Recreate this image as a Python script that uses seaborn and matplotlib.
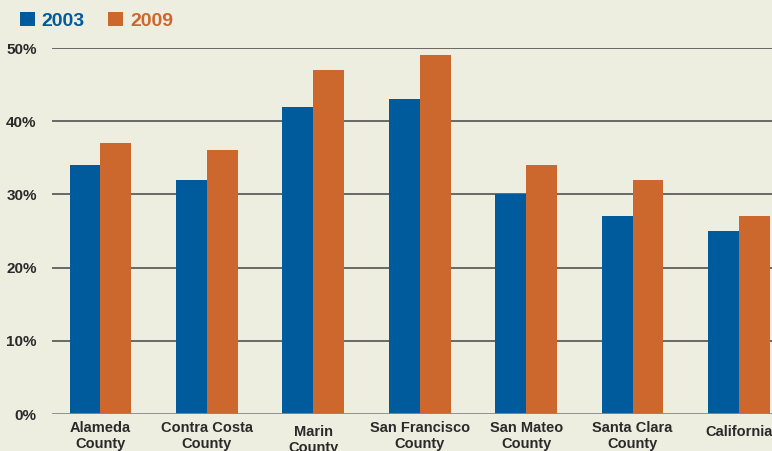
import matplotlib
matplotlib.use("Agg")
import matplotlib.pyplot as plt
import matplotlib.transforms as mtrans
from matplotlib.patches import Patch
import seaborn as sns
import pandas as pd

# Share of adults by area, 2003 vs 2009
categories = ["Alameda\nCounty", "Contra Costa\nCounty", "Marin\nCounty",
              "San Francisco\nCounty", "San Mateo\nCounty", "Santa Clara\nCounty",
              "California"]
values_2003 = [34, 32, 42, 43, 30, 27, 25]
values_2009 = [37, 36, 47, 49, 34, 32, 27]
years = ["2003", "2009"]
y_ticks = [0, 10, 20, 30, 40, 50]
y_tick_labels = ["0%", "10%", "20%", "30%", "40%", "50%"]

BG = "#EEEEE0"
BLUE = "#005B9C"
ORANGE = "#CC672E"
TEXT = "#2a2a2a"

sns.set_theme(style="white")
plt.rcParams["font.family"] = ["Liberation Sans", "DejaVu Sans"]
plt.rcParams["font.weight"] = "bold"

df = pd.DataFrame({
    "area": categories * 2,
    "year": [years[0]] * len(categories) + [years[1]] * len(categories),
    "pct": values_2003 + values_2009,
})

fig = plt.figure(figsize=(7.72, 4.51), dpi=100, facecolor=BG)
ax = fig.add_axes([52 / 772, 1 - 414 / 451, 1 - 52 / 772, (414 - 48) / 451])
ax.set_facecolor(BG)

sns.barplot(data=df, x="area", y="pct", hue="year", order=categories,
            hue_order=years, palette=[BLUE, ORANGE], width=0.58,
            saturation=1, ax=ax, legend=False, zorder=3)
for p in ax.patches:
    p.set_edgecolor("none")

ax.set_xlim(-0.455, 6.31)
ax.set_ylim(0, 50)
ax.set_yticks(y_ticks)
ax.set_yticklabels(y_tick_labels, fontsize=11, fontweight="bold", color=TEXT)
ax.tick_params(axis="y", length=0, pad=11)
ax.tick_params(axis="x", length=0, pad=5)
for lbl in ax.get_xticklabels():
    lbl.set_fontsize(10.5)
    lbl.set_fontweight("bold")
    lbl.set_color(TEXT)
    lbl.set_linespacing(1.2)
    if lbl.get_text() in ("Marin\nCounty", "California"):
        lbl.set_transform(lbl.get_transform() +
                          mtrans.ScaledTranslation(0, -4 / 100, fig.dpi_scale_trans))
ax.set_xlabel("")
ax.set_ylabel("")

for y in y_ticks[1:]:
    ax.axhline(y, color="#444444", lw=1.1, zorder=1)
ax.axhline(0, color="#8a8a8a", lw=2, zorder=4)
for s in ax.spines.values():
    s.set_visible(False)

handles = [Patch(facecolor=BLUE, edgecolor="none"),
           Patch(facecolor=ORANGE, edgecolor="none")]
fig.legend(handles, years, loc="upper left", bbox_to_anchor=(0.003, 1.012),
           ncol=2, frameon=False, handlelength=0.77, handleheight=0.7,
           handletextpad=0.36, columnspacing=1.2,
           prop={"weight": "bold", "size": 14},
           labelcolor=[BLUE, ORANGE])

fig.savefig("out.png", dpi=100, facecolor=BG)
